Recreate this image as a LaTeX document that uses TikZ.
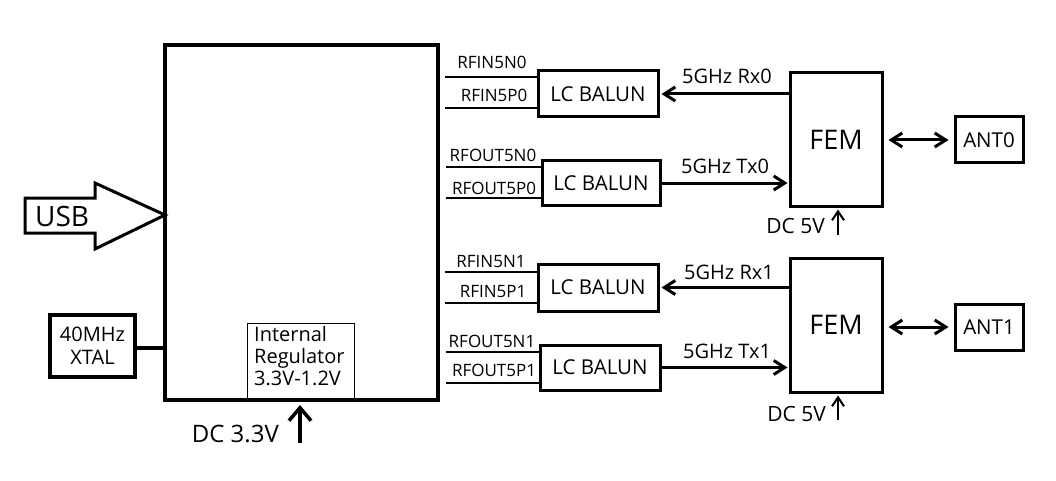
\documentclass[tikz,border=0pt]{standalone}
\usepackage{fontspec}
\setmainfont{Open Sans}
\usetikzlibrary{arrows.meta}
\begin{document}
\begin{tikzpicture}[x=1pt,y=-1pt,
  box/.style={draw, line width=3pt, inner sep=0pt},
  thinbox/.style={draw, line width=1pt, inner sep=0pt},
  pin/.style={line width=1.2pt},
  pinlbl/.style={anchor=base, inner sep=0pt, font=\fontsize{17}{17}\selectfont},
  conn/.style={line width=3pt, -{Straight Barb[length=11pt,width=14pt]}},
  biconn/.style={line width=3pt, {Straight Barb[length=11pt,width=14pt]}-{Straight Barb[length=11pt,width=14pt]}},
  sig/.style={font=\fontsize{20}{20}\selectfont, inner sep=0pt, anchor=base},
  bal/.style={box, minimum width=120pt, font=\fontsize{20.5}{20.5}\selectfont},
  fem/.style={box, minimum width=92pt, minimum height=134pt, font=\fontsize{27}{27}\selectfont},
  ant/.style={box, minimum width=68pt, minimum height=46pt, font=\fontsize{20.5}{20.5}\selectfont},
]
\fill[white] (0,0) rectangle (1056,481);
\useasboundingbox (0,0) rectangle (1056,481);

% main chip
\node[draw, line width=4pt, inner sep=0pt, minimum width=273pt, minimum height=355pt] (chip) at (301.5,222.5) {};
\node[thinbox, minimum width=107pt, minimum height=76pt, anchor=south] (reg) at (300.5,400) {};
\node[anchor=north west, inner sep=0pt, align=left, font=\fontsize{20}{22}\selectfont] (regtxt) at (254,326) {Internal\\Regulator\\3.3V-1.2V};

% USB arrow
\coordinate (usbtip) at (165,215);
\draw[line width=3pt, line join=miter] (25,198) -- (95,198) -- (95,183) -- (usbtip) -- (95,249) -- (95,233) -- (25,233) -- cycle;
\node[anchor=west, inner sep=0pt, font=\fontsize{28}{28}\selectfont] (usb) at (35,216) {USB};

% XTAL
\node[box, line width=3.5pt, minimum width=85pt, minimum height=62pt, align=center, font=\fontsize{20}{23}\selectfont] (xtal) at (92.5,346) {40MHz\\XTAL};
\coordinate (xl) at (135,348);
\draw[line width=3.5pt] (xl) -- (chip.west |- xl);

% DC 3.3V
\coordinate (p33) at (300,443);
\draw[line width=3.5pt, -{Straight Barb[length=13pt,width=22pt]}, shorten >=3pt] (p33) -- (chip.south -| p33);
\node[anchor=base east, inner sep=0pt, font=\fontsize{24}{24}\selectfont] (dc33) at (279,442) {DC 3.3V};

% baluns
\node[bal, minimum height=46pt] (bal0) at (598,94) {LC BALUN};
\node[bal, minimum width=118pt, minimum height=44pt] (bal1) at (601,183) {LC BALUN};
\node[bal, minimum height=47pt] (bal2) at (598,287.5) {LC BALUN};
\node[bal, minimum height=45pt] (bal3) at (600,367.5) {LC BALUN};

% pin lines
\coordinate (a0) at (445,77);  \draw[pin] (a0) -- (bal0.west |- a0);
\coordinate (b0) at (445,108); \draw[pin] (b0) -- (bal0.west |- b0);
\coordinate (a1) at (446,167); \draw[pin] (a1) -- (bal1.west |- a1);
\coordinate (b1) at (446,198); \draw[pin] (b1) -- (bal1.west |- b1);
\coordinate (a2) at (445,272); \draw[pin] (a2) -- (bal2.west |- a2);
\coordinate (b2) at (445,303); \draw[pin] (b2) -- (bal2.west |- b2);
\coordinate (a3) at (446,352); \draw[pin] (a3) -- (bal3.west |- a3);
\coordinate (b3) at (446,383); \draw[pin] (b3) -- (bal3.west |- b3);

\node[pinlbl] (la0) at (492,69) {RFIN5N0};
\node[pinlbl] (lb0) at (494,102) {RFIN5P0};
\node[pinlbl] (la1) at (493,162) {RFOUT5N0};
\node[pinlbl] (lb1) at (494,194) {RFOUT5P0};
\node[pinlbl] (la2) at (491,267) {RFIN5N1};
\node[pinlbl] (lb2) at (493,297) {RFIN5P1};
\node[pinlbl] (la3) at (492,347) {RFOUT5N1};
\node[pinlbl] (lb3) at (494,376) {RFOUT5P1};

% FEMs and antennas
\node[fem, minimum height=133pt] (fem0) at (836,139.5) {FEM};
\node[fem] (fem1) at (836,325) {FEM};
\node[ant] (ant0) at (989,140) {ANT0};
\node[ant] (ant1) at (989,327) {ANT1};

% RF connections
\draw[conn, shorten >=2pt] (fem0.west |- bal0.east) -- (bal0.east);
\draw[conn, shorten >=1pt] (bal1.east) -- (fem0.west |- bal1.east);
\draw[conn, shorten >=2pt] (fem1.west |- bal2.east) -- (bal2.east);
\draw[conn, shorten >=1pt] (bal3.east) -- (fem1.west |- bal3.east);
\node[sig] (rx0) at (727,84) {5GHz Rx0};
\node[sig] (tx0) at (725,173) {5GHz Tx0};
\node[sig] (rx1) at (729,279) {5GHz Rx1};
\node[sig] (tx1) at (727,358) {5GHz Tx1};

\draw[biconn, shorten <=5pt, shorten >=5pt] (fem0.east |- ant0.west) -- (ant0.west);
\draw[biconn, shorten <=5pt, shorten >=5pt] (fem1.east |- ant1.west) -- (ant1.west);

% DC 5V
\coordinate (p5a) at (838,235);
\coordinate (p5b) at (838,420);
\draw[line width=2pt, -{Straight Barb[length=9pt,width=12pt]}, shorten >=2pt] (p5a) -- (fem0.south -| p5a);
\draw[line width=2pt, -{Straight Barb[length=9pt,width=12pt]}, shorten >=2pt] (p5b) -- (fem1.south -| p5b);
\node[anchor=base east, inner sep=0pt, font=\fontsize{21}{21}\selectfont] (dc50) at (825,233) {DC 5V};
\node[anchor=base east, inner sep=0pt, font=\fontsize{21}{21}\selectfont] (dc51) at (826,421) {DC 5V};
\end{tikzpicture}
\end{document}
